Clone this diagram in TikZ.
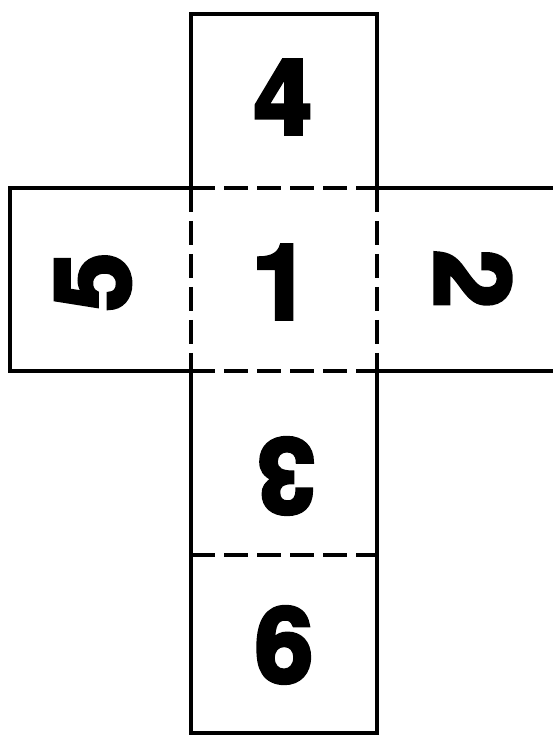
\documentclass[tikz,border=0pt]{standalone}
\usepackage{fontspec}
\newfontfamily\netfont[FakeBold=4]{TeX Gyre Heros Bold}
\usepackage{tikz}

\begin{document}
\begin{tikzpicture}[x=1pt,y=1pt,line width=3.5pt,
    facenum/.style={font=\netfont\fontsize{104}{104}\selectfont,inner sep=0pt},
    fold/.style={dash pattern=on 24pt off 9pt}]
  \useasboundingbox (0,0) rectangle (553,735);

  \coordinate (a) at (191,721);
  \coordinate (b) at (377,721);
  \coordinate (c) at (377,547);
  \coordinate (d) at (191,547);
  \coordinate (e) at (377,364);
  \coordinate (f) at (191,364);
  \coordinate (g) at (377,180);
  \coordinate (h) at (191,180);
  \coordinate (i) at (377,2);
  \coordinate (j) at (191,2);

  \draw[line join=miter] (d) -- (a) -- (b) -- (c) -- (570,547) -- (570,364)
    -- (e) -- (i) -- (j) -- (f) -- (10,364) -- (10,547) -- (d);
  \draw[fold] (d) -- (c);
  \draw[fold] (d) -- (f);
  \draw[fold] (c) -- (e);
  \draw[fold] (f) -- (e);
  \draw[fold] (h) -- (g);

  \node[facenum] (four)  at (283,638) {4};
  \node[facenum] (one)   at (281,453) {1};
  \node[facenum,rotate=90]  (five) at (93,453) {5};
  \node[facenum,rotate=-90] (two)  at (473,456) {2};
  \node[facenum,rotate=180] (three) at (286,259) {3};
  \node[facenum] (six)   at (284,90) {6};
\end{tikzpicture}
\end{document}
